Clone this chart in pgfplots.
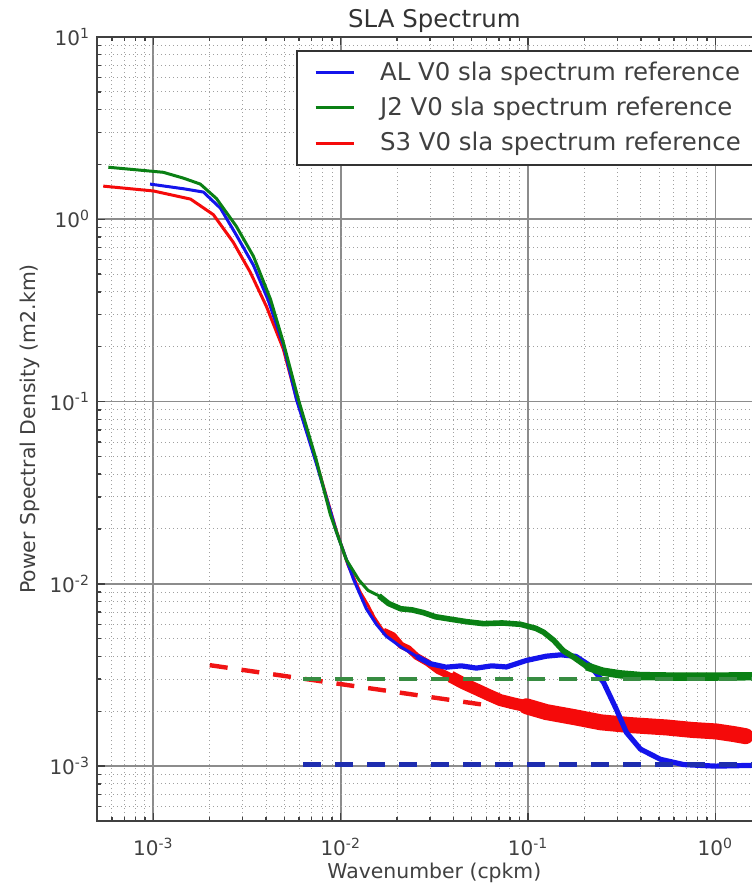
\documentclass[border=0pt]{standalone}
\usepackage{fontspec}
\setmainfont{DejaVu Sans}
\usepackage{pgfplots}
\pgfplotsset{compat=1.18}
\definecolor{cAL}{RGB}{20,20,235}
\definecolor{cJ2}{RGB}{10,128,20}
\definecolor{cS3}{RGB}{245,10,10}
\definecolor{dJ2}{RGB}{55,140,65}
\definecolor{dAL}{RGB}{30,45,175}
\definecolor{dS3}{RGB}{240,20,20}
\definecolor{gridmaj}{RGB}{140,140,140}
\definecolor{gridmin}{RGB}{160,160,160}
\begin{document}
\begin{tikzpicture}
\begin{axis}[
 name=ax,
 scale only axis,
 width=337.4pt, height=392pt,
 xmode=log, ymode=log,
 xmin=5e-4, xmax=2, ymin=5e-4, ymax=10,
 xtick={1e-3,1e-2,1e-1,1},
 xticklabels={10\textsuperscript{-3},10\textsuperscript{-2},10\textsuperscript{-1},10\textsuperscript{0}},
 ytick={1e-3,1e-2,1e-1,1,10},
 yticklabels={10\textsuperscript{-3},10\textsuperscript{-2},10\textsuperscript{-1},10\textsuperscript{0},10\textsuperscript{1}},
 minor xtick={6e-4,7e-4,8e-4,9e-4,2e-3,3e-3,4e-3,5e-3,6e-3,7e-3,8e-3,9e-3,2e-2,3e-2,4e-2,5e-2,6e-2,7e-2,8e-2,9e-2,0.2,0.3,0.4,0.5,0.6,0.7,0.8,0.9,2},
 minor ytick={6e-4,7e-4,8e-4,9e-4,2e-3,3e-3,4e-3,5e-3,6e-3,7e-3,8e-3,9e-3,2e-2,3e-2,4e-2,5e-2,6e-2,7e-2,8e-2,9e-2,0.2,0.3,0.4,0.5,0.6,0.7,0.8,0.9,2,3,4,5,6,7,8,9},
 grid=both,
 major grid style={draw=gridmaj, line width=0.9pt},
 minor grid style={draw=gridmin, line width=0.5pt, dash pattern=on 0.6pt off 1.4pt},
 axis line style={draw=black!75, line width=1.3pt},
 major tick length=4pt, minor tick length=2pt,
 tick style={draw=black!75, line width=0.7pt},
 tick align=inside,
 tick label style={font=\fontsize{10}{12}\selectfont, text=black!75},
 xticklabel style={yshift=-5pt},
 title={SLA Spectrum},
 every axis title/.style={at={(axis description cs:0.5,1)}, anchor=base, yshift=4.5pt, font=\fontsize{12.2}{14}\selectfont, text=black!80},
 xlabel={Wavenumber (cpkm)},
 ylabel={Power Spectral Density (m2.km)},
 every axis x label/.style={at={(axis description cs:0.5,-0.0665)}, anchor=center, font=\fontsize{10.2}{12}\selectfont, text=black!75},
 every axis y label/.style={at={(axis description cs:-0.0993,0.5)}, anchor=center, rotate=90, font=\fontsize{10.2}{12}\selectfont, text=black!75},
 legend style={at={(axis description cs:1,1)}, anchor=north east, xshift=-6.5pt, yshift=-6.5pt, font=\fontsize{12.2}{14}\selectfont, draw=black!80, line width=1pt, fill=white, inner xsep=8.5pt, inner ysep=5.5pt, row sep=6.8pt, column sep=12.5pt, nodes={inner sep=0pt}, text=black!75},
 legend cell align=left,
 legend image code/.code={\draw[#1] (0pt,0pt) -- (19pt,0pt);},
]
% ---------- S3 (red) ----------
\addplot[cS3, line width=1.5pt, line join=round, forget plot] coordinates {
(5.4e-4,1.52) (1.0e-3,1.43) (1.58e-3,1.29) (2.09e-3,1.06) (2.67e-3,0.748) (3.29e-3,0.512)
(4.01e-3,0.333) (4.94e-3,0.194) (5.79e-3,0.105) (7.41e-3,0.0465) (9.49e-3,0.0195)
(1.1e-2,0.0125) (1.27e-2,9.0e-3) (1.4e-2,7.6e-3) (1.5e-2,6.6e-3) (1.69e-2,5.5e-3)
(1.9e-2,5.2e-3) (2.1e-2,4.6e-3) (2.3e-2,4.4e-3) (2.54e-2,4.0e-3) (2.9e-2,3.7e-3)
(3.3e-2,3.35e-3) (3.86e-2,3.1e-3) (4.5e-2,2.85e-3) (5.3e-2,2.64e-3) (6.2e-2,2.45e-3)
(7.13e-2,2.3e-3) (8.5e-2,2.2e-3) (9.8e-2,2.13e-3) (0.125,1.98e-3) (0.18,1.85e-3)
(0.244,1.74e-3) (0.35,1.68e-3) (0.548,1.63e-3) (0.75,1.58e-3) (1.01,1.55e-3)
(1.25,1.5e-3) (1.5,1.46e-3)};
\addplot[cS3, line width=3.5pt, line join=round, forget plot] coordinates {
(1.69e-2,5.5e-3) (1.9e-2,5.2e-3) (2.1e-2,4.6e-3) (2.3e-2,4.4e-3) (2.54e-2,4.0e-3) (2.9e-2,3.7e-3)
(3.3e-2,3.35e-3) (3.86e-2,3.1e-3) (4.5e-2,2.85e-3)};
\addplot[cS3, line width=6pt, line join=round, forget plot] coordinates {
(3.86e-2,3.1e-3) (4.5e-2,2.85e-3) (5.3e-2,2.64e-3) (6.2e-2,2.45e-3)
(7.13e-2,2.3e-3) (8.5e-2,2.2e-3) (9.8e-2,2.13e-3) (0.125,1.98e-3)};
\addplot[cS3, line width=8pt, line join=round, line cap=round, forget plot] coordinates {
(9.8e-2,2.13e-3) (0.125,1.98e-3) (0.18,1.85e-3)
(0.244,1.74e-3) (0.35,1.68e-3) (0.548,1.63e-3) (0.75,1.58e-3) (1.01,1.55e-3)
(1.25,1.5e-3) (1.45,1.46e-3)};
% ---------- AL (blue) ----------
\addplot[cAL, line width=1.5pt, line join=round, forget plot] coordinates {
(9.6e-4,1.56) (1.45e-3,1.47) (1.85e-3,1.41) (2.28e-3,1.15) (2.77e-3,0.82) (3.42e-3,0.56)
(4.1e-3,0.36) (4.94e-3,0.205) (5.8e-3,0.103) (7.4e-3,0.046) (9.5e-3,0.0192)
(1.17e-2,0.0106) (1.37e-2,7.3e-3) (1.55e-2,6.0e-3) (1.75e-2,5.16e-3) (2.1e-2,4.5e-3)
(2.54e-2,4.0e-3) (3.0e-2,3.65e-3) (3.66e-2,3.49e-3) (4.4e-2,3.55e-3) (5.3e-2,3.45e-3)
(6.4e-2,3.55e-3) (7.67e-2,3.5e-3) (9.8e-2,3.8e-3) (0.125,4.01e-3) (0.15,4.08e-3)
(0.18,4.0e-3) (0.215,3.55e-3) (0.253,2.88e-3) (0.296,2.05e-3) (0.335,1.53e-3)
(0.398,1.24e-3) (0.509,1.09e-3) (0.676,1.02e-3) (1.0,1.0e-3) (1.6,1.01e-3) (2.0,1.01e-3)};
\addplot[cAL, line width=2.6pt, line join=round, forget plot] coordinates {
(2.54e-2,4.0e-3) (3.0e-2,3.65e-3) (3.66e-2,3.49e-3) (4.4e-2,3.55e-3) (5.3e-2,3.45e-3)
(6.4e-2,3.55e-3) (7.67e-2,3.5e-3) (9.8e-2,3.8e-3) (0.125,4.01e-3) (0.15,4.08e-3)
(0.18,4.0e-3) (0.215,3.55e-3) (0.253,2.88e-3) (0.296,2.05e-3) (0.335,1.53e-3)
(0.398,1.24e-3) (0.509,1.09e-3) (0.676,1.02e-3) (1.0,1.0e-3) (1.6,1.01e-3) (2.0,1.01e-3)};
% ---------- J2 (green) ----------
\addplot[cJ2, line width=1.5pt, line join=round, forget plot] coordinates {
(5.75e-4,1.93) (1.13e-3,1.81) (1.45e-3,1.68) (1.78e-3,1.56) (2.17e-3,1.3) (2.77e-3,0.916)
(3.42e-3,0.627) (4.22e-3,0.364) (4.94e-3,0.211) (5.94e-3,0.103) (7.4e-3,0.048)
(8.8e-3,0.024) (1.07e-2,0.0136) (1.25e-2,0.0105) (1.4e-2,9.2e-3) (1.6e-2,8.6e-3)
(1.8e-2,7.8e-3) (2.09e-2,7.3e-3) (2.4e-2,7.2e-3) (2.77e-2,6.95e-3) (3.2e-2,6.6e-3)
(3.86e-2,6.4e-3) (4.7e-2,6.2e-3) (5.78e-2,6.05e-3) (7.3e-2,6.1e-3) (9.1e-2,6.0e-3)
(0.11,5.7e-3) (0.121,5.43e-3) (0.137,4.9e-3) (0.154,4.3e-3) (0.175,3.96e-3)
(0.205,3.53e-3) (0.25,3.3e-3) (0.31,3.19e-3) (0.4,3.12e-3) (0.6,3.1e-3) (1.0,3.1e-3) (2.0,3.12e-3)};
\addplot[cJ2, line width=2.8pt, line join=round, forget plot] coordinates {
(1.6e-2,8.6e-3)
(1.8e-2,7.8e-3) (2.09e-2,7.3e-3) (2.4e-2,7.2e-3) (2.77e-2,6.95e-3) (3.2e-2,6.6e-3)
(3.86e-2,6.4e-3) (4.7e-2,6.2e-3) (5.78e-2,6.05e-3) (7.3e-2,6.1e-3) (9.1e-2,6.0e-3)
(0.11,5.7e-3) (0.121,5.43e-3) (0.137,4.9e-3) (0.154,4.3e-3) (0.175,3.96e-3)
(0.205,3.53e-3) (0.25,3.3e-3) (0.31,3.19e-3) (0.4,3.12e-3) (0.6,3.1e-3) (1.0,3.1e-3) (2.0,3.12e-3)};
\addplot[cJ2, line width=4.2pt, line join=round, forget plot] coordinates {
(0.205,3.53e-3) (0.25,3.3e-3) (0.31,3.19e-3) (0.4,3.12e-3) (0.6,3.1e-3) (1.0,3.1e-3) (2.0,3.12e-3)};
% ---------- reference dashed lines ----------
\addplot[dS3, line width=2.2pt, dash pattern=on 9pt off 7pt, forget plot] coordinates {(2.0e-3,3.58e-3) (6.0e-2,2.16e-3)};
\addplot[dJ2, line width=2.2pt, dash pattern=on 9pt off 7pt, forget plot] coordinates {(6.3e-3,3.0e-3) (2,3.0e-3)};
\addplot[dAL, line width=2.2pt, dash pattern=on 9pt off 7pt, forget plot] coordinates {(6.3e-3,1.02e-3) (2,1.02e-3)};
% ---------- legend ----------
\addlegendimage{cAL, line width=1.5pt}
\addlegendentry{AL V0 sla spectrum reference}
\addlegendimage{cJ2, line width=1.5pt}
\addlegendentry{J2 V0 sla spectrum reference}
\addlegendimage{cS3, line width=1.5pt}
\addlegendentry{S3 V0 sla spectrum reference}
\end{axis}
\pgfresetboundingbox
\path[use as bounding box] ([xshift=-48.5pt,yshift=-32pt]ax.south west) rectangle ([xshift=327pt,yshift=410.5pt]ax.south west);
\end{tikzpicture}
\end{document}
